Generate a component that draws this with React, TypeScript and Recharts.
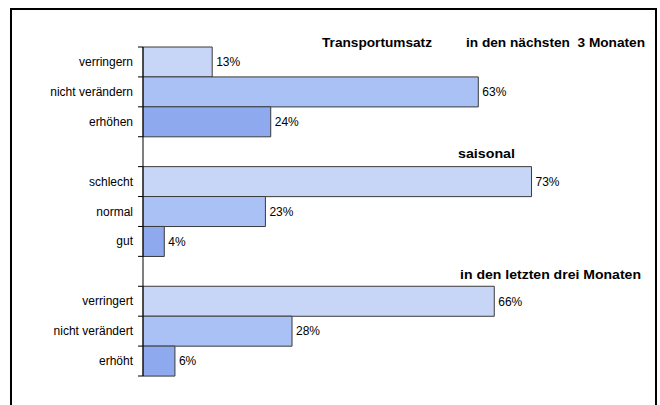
import React from 'react';
import { BarChart, Bar, XAxis, YAxis, Cell, LabelList } from 'recharts';

// Categories top to bottom; empty strings are the spacer rows between the groups
const categories = [
  'verringern', 'nicht verändern', 'erhöhen', '',
  'schlecht', 'normal', 'gut', '',
  'verringert', 'nicht verändert', 'erhöht',
];
const shares: (number | null)[] = [13, 63, 24, null, 73, 23, 4, null, 66, 28, 6];
const shadeIndex = [0, 1, 2, -1, 0, 1, 2, -1, 0, 1, 2];
const shades = ['#C7D6F6', '#AAC1F6', '#8EA9EE'];

const data = categories.map((label, i) => ({
  key: `row${i}`,
  label,
  value: shares[i],
  shade: shadeIndex[i],
}));

const FONT = '"Liberation Sans", Arial, sans-serif';
const WIDTH = 660;
const HEIGHT = 405;
const MARGIN = { top: 47, right: 38, bottom: 29, left: 0 };
const AXIS_WIDTH = 143;
const BAND = (HEIGHT - MARGIN.top - MARGIN.bottom) / categories.length;

const CategoryTick = (props: any) => {
  const { x, y, payload, index } = props;
  const row = data[index] ?? data.find((d) => d.key === payload.value);
  const axisX = x + 6;
  return (
    <g>
      <line x1={axisX - 5} x2={axisX} y1={y - BAND / 2} y2={y - BAND / 2} stroke="#000" />
      {index === categories.length - 1 && (
        <line x1={axisX - 5} x2={axisX} y1={y + BAND / 2} y2={y + BAND / 2} stroke="#000" />
      )}
      <text x={x - 4} y={y} dy={4} textAnchor="end" fontSize={12} fontFamily={FONT} fill="#000">
        {row ? row.label : ''}
      </text>
    </g>
  );
};

const App: React.FC = () => {
  return (
    <div
      style={{
        position: 'fixed',
        left: 0,
        top: 0,
        width: WIDTH,
        height: HEIGHT,
        overflow: 'hidden',
        background: '#fff',
        fontFamily: FONT,
      }}
    >
      <div
        style={{
          position: 'absolute',
          left: 10,
          top: 8,
          width: 647,
          height: 420,
          border: '2px solid #000',
          boxSizing: 'border-box',
        }}
      />
      <div style={{ position: 'absolute', left: 0, top: 0 }}>
        <BarChart
          width={WIDTH}
          height={HEIGHT}
          data={data}
          layout="vertical"
          margin={MARGIN}
          barCategoryGap={0}
        >
          <XAxis type="number" domain={[0, 90]} hide />
          <YAxis
            type="category"
            dataKey="key"
            width={AXIS_WIDTH}
            axisLine={{ stroke: '#000' }}
            tickLine={false}
            tickSize={6}
            tickMargin={0}
            interval={0}
            tick={<CategoryTick />}
          />
          <Bar dataKey="value" stroke="#3a3a3a" strokeWidth={1} isAnimationActive={false}>
            {data.map((d) => (
              <Cell key={d.key} fill={d.shade >= 0 ? shades[d.shade] : 'none'} />
            ))}
            <LabelList
              dataKey="value"
              position="right"
              offset={4}
              fontSize={12}
              fontFamily={FONT}
              fill="#000"
              formatter={(v: any) => (v == null ? '' : `${v}%`)}
            />
          </Bar>
        </BarChart>
      </div>
      <svg
        width={WIDTH}
        height={HEIGHT}
        style={{ position: 'absolute', left: 0, top: 0, pointerEvents: 'none' }}
      >
        <g fontFamily={FONT} fontSize={13} fontWeight="bold" fill="#000">
          <text x={322} y={47} textLength={110} lengthAdjust="spacingAndGlyphs">Transportumsatz</text>
          <text x={466} y={47} textLength={179} lengthAdjust="spacingAndGlyphs" style={{ whiteSpace: 'pre' }}>
            in den nächsten  3 Monaten
          </text>
          <text x={458} y={158} textLength={57} lengthAdjust="spacingAndGlyphs">saisonal</text>
          <text x={460} y={279} textLength={181} lengthAdjust="spacingAndGlyphs">in den letzten drei Monaten</text>
        </g>
      </svg>
    </div>
  );
};

export default App;
